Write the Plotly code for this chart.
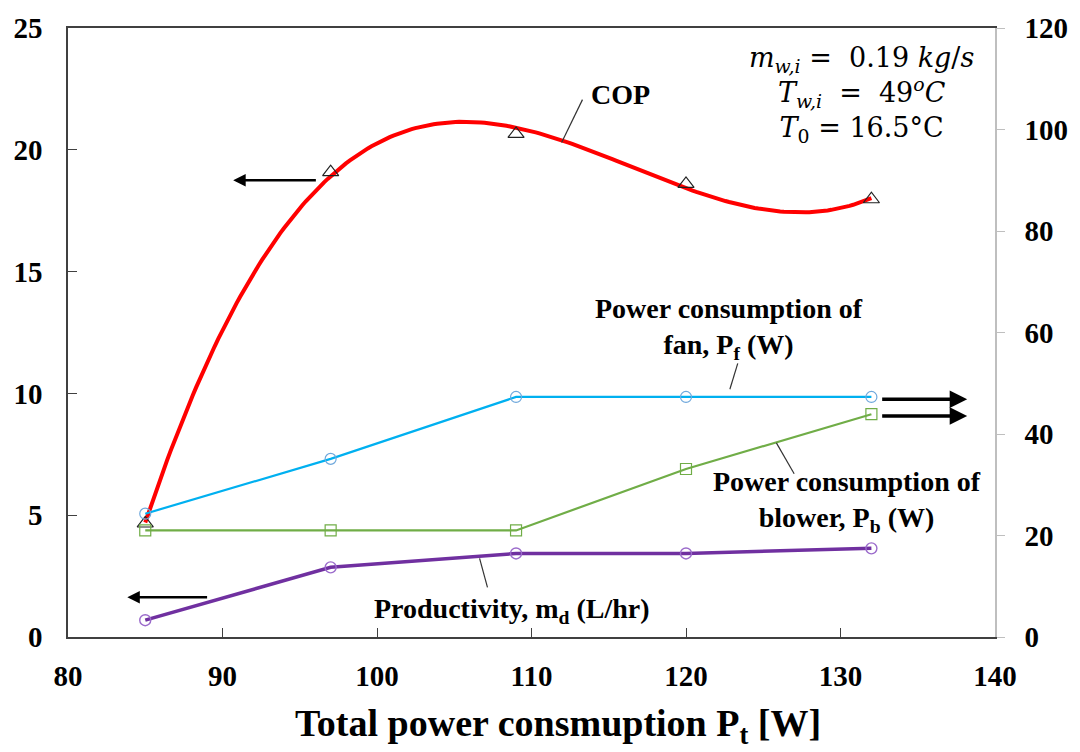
import numpy as np
import plotly.graph_objects as go

# ---- data ----
power_total = [85, 97, 109, 120, 132]            # x, W
cop = [4.66, 19.08, 20.65, 18.6, 17.97]          # left axis
productivity = [0.69, 2.86, 3.43, 3.43, 3.64]    # left axis, L/hr
fan_power = [24.3, 35.1, 47.3, 47.3, 47.3]       # right axis, W
blower_power = [21.0, 21.0, 21.0, 33.1, 43.9]    # right axis, W

x_ticks = [80, 90, 100, 110, 120, 130, 140]

# COP cubic trendline (as in the original spreadsheet chart)
coef = np.polyfit(power_total, cop, 3)
x_fit = np.linspace(min(power_total), max(power_total), 200)
y_fit = np.polyval(coef, x_fit)

FONT = "Liberation Serif, Times New Roman, Times, serif"
fig = go.Figure()

fig.add_trace(go.Scatter(x=x_fit, y=y_fit, mode="lines",
                         line=dict(color="#FF0000", width=4), showlegend=False))
fig.add_trace(go.Scatter(x=power_total, y=cop, mode="markers",
                         marker=dict(symbol="triangle-up-open", size=14, color="#222222",
                                     line=dict(width=1.2)), showlegend=False))
fig.add_trace(go.Scatter(x=power_total, y=fan_power, mode="lines+markers", yaxis="y2",
                         line=dict(color="#00B0F0", width=2.2),
                         marker=dict(symbol="circle-open", size=11, color="#6FA8DC",
                                     line=dict(width=1.2)), showlegend=False))
fig.add_trace(go.Scatter(x=power_total, y=blower_power, mode="lines+markers", yaxis="y2",
                         line=dict(color="#70AD47", width=2.2),
                         marker=dict(symbol="square-open", size=11, color="#70AD47",
                                     line=dict(width=1.2)), showlegend=False))
fig.add_trace(go.Scatter(x=power_total, y=productivity, mode="lines+markers",
                         line=dict(color="#7030A0", width=3.5),
                         marker=dict(symbol="circle-open", size=11, color="#9B6BCB",
                                     line=dict(width=1.4)), showlegend=False))

ann_font = dict(family=FONT, size=28, color="black")
annotations = [
    dict(x=115.73, y=22.26, text="<b>COP</b>", showarrow=False, font=ann_font),
    dict(x=122.77, y=12.66, text="<b>Power consumption of<br>fan, P<sub>f</sub> (W)</b>",
         showarrow=False, font=ann_font, align="center"),
    dict(x=130.4, y=5.56, text="<b>Power consumption of<br>blower, P<sub>b</sub> (W)</b>",
         showarrow=False, font=ann_font, align="center"),
    dict(x=108.75, y=1.10, text="<b>Productivity, m<sub>d</sub> (L/hr)</b>",
         showarrow=False, font=ann_font),
    dict(x=131.35, y=22.26,
         text="<i>m</i><sub><i>w,i</i></sub> =  0.19 <i>kg</i>/<i>s</i><br>"
              "<i>T</i><sub><i>w,i</i></sub>  =  49<sup><i>o</i></sup><i>C</i><br>"
              "<i>T</i><sub>0</sub> = 16.5°C",
         showarrow=False, align="center",
         font=dict(family="DejaVu Serif, serif", size=27, color="black")),
    # x-axis title
    dict(xref="paper", yref="paper", x=0.529, y=-0.146, xanchor="center", yanchor="middle",
         text="<b>Total power consmuption P<sub>t</sub> [W]</b>", showarrow=False,
         font=dict(family=FONT, size=38, color="black")),
]
# axis-pointing arrows
arrow_defs = [
    (96.14, 18.75, 90.69, 18.75, 2.5),
    (89.1, 1.63, 83.84, 1.63, 2.5),
    (132.6, 9.76, 138.2, 9.76, 3.5),
    (132.6, 9.07, 138.2, 9.07, 3.5),
]
for tx, ty, hx, hy, w in arrow_defs:
    annotations.append(dict(x=hx, y=hy, ax=tx, ay=ty, xref="x", yref="y", axref="x", ayref="y",
                            text="", showarrow=True, arrowhead=2, arrowsize=1,
                            arrowwidth=w, arrowcolor="black"))

shapes = []
for x0, y0, x1, y1 in [(113.30, 22.06, 111.95, 20.30),
                       (123.35, 11.23, 122.84, 10.17),
                       (125.85, 7.97, 127.0, 6.70),
                       (106.64, 3.23, 107.15, 2.04)]:
    shapes.append(dict(type="line", xref="x", yref="y", x0=x0, y0=y0, x1=x1, y1=y1,
                       line=dict(color="#333333", width=1.2)))

tick_font = dict(family=FONT, size=29, color="black", weight="bold")
fig.update_layout(
    width=1080, height=752,
    margin=dict(l=68, r=75, t=25, b=115),
    plot_bgcolor="white", paper_bgcolor="white",
    font=dict(family=FONT),
    xaxis=dict(range=[80, 140], tickvals=x_ticks, ticks="inside", ticklen=9,
               tickcolor="#404040", tickwidth=1.2, showline=True, linecolor="#404040",
               linewidth=1.5, mirror=True, showgrid=False, zeroline=False,
               tickfont=tick_font, ticklabelstandoff=12),
    yaxis=dict(range=[0, 25], dtick=5, ticks="inside", ticklen=9, tickcolor="#404040",
               tickwidth=1.2, showline=True, linecolor="#404040", linewidth=1.5,
               showgrid=False, zeroline=False, tickfont=tick_font, ticklabelstandoff=18),
    yaxis2=dict(range=[0, 120], dtick=20, overlaying="y", side="right", ticks="outside",
                ticklen=8, tickcolor="#BFBFBF", tickwidth=1.2, showline=True,
                linecolor="#BFBFBF", linewidth=1.5, showgrid=False, zeroline=False,
                tickfont=tick_font, ticklabelstandoff=14),
    annotations=annotations,
    shapes=shapes,
)

fig.write_html("out.html")
